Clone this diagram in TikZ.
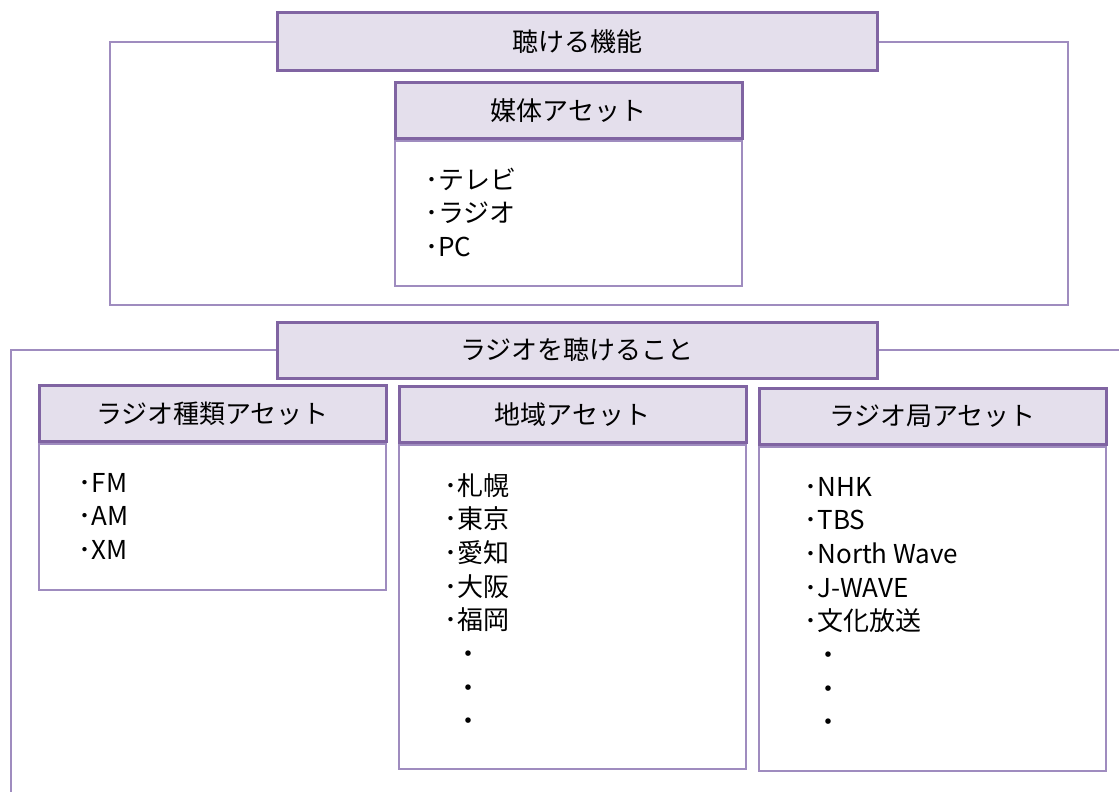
\documentclass[tikz,border=0pt]{standalone}
\usepackage{fontspec}
\newfontfamily\jpfont{Noto Sans CJK JP}
\usepackage{tikz}
\usetikzlibrary{positioning}
\definecolor{framepurple}{HTML}{8064A2}
\definecolor{linepurple}{HTML}{9F8CBF}
\definecolor{headfill}{HTML}{E4DFEC}

\begin{document}
\begin{tikzpicture}[x=1pt, y=-1pt,
  header/.style={draw=framepurple, line width=3pt, fill=headfill, minimum height=56pt, inner sep=0pt, font=\jpfont\fontsize{26}{30}\selectfont},
  wideheader/.style={header, minimum width=600pt},
  assethead/.style={header, minimum width=347pt},
  assetbody/.style={draw=linepurple, line width=1.5pt, minimum width=347pt, inner sep=0pt, anchor=north},
  itemlist/.style={align=left, anchor=base west, inner sep=0pt, font=\jpfont\fontsize{26}{33.7}\selectfont},
  frame/.style={draw=linepurple, line width=1.5pt}]

\useasboundingbox (0,0) rectangle (1119,792);
\clip (0,0) rectangle (1119,792);

% upper block
\node[wideheader, minimum height=58pt] (topHead) at (577,42) {聴ける機能};
\draw[frame] (topHead.west) -| (110,305) -- (1068,305) |- (topHead.east);

\node[assetbody, minimum height=145pt] (mediaBody) at (568.5,140) {};
\node[assethead, above=0pt of mediaBody] (mediaHead) {媒体アセット};
% base of a list node is its last line
\node[itemlist] (mediaList) at ([xshift=31pt, yshift=-116.4pt]mediaBody.north west) {･テレビ\\･ラジオ\\･PC};

% lower block
\node[wideheader] (radioHead) at (577,350) {ラジオを聴けること};
\draw[frame] (radioHead.west) -| (11,810);
\draw[frame] (radioHead.east) -- (1130,350);

\node[assetbody, minimum height=146pt] (kindBody) at (212.5,443) {};
\node[assethead, above=0pt of kindBody] (kindHead) {ラジオ種類アセット};
\node[itemlist] (kindList) at ([xshift=40.5pt, yshift=-116.4pt]kindBody.north west) {･FM\\･AM\\･XM};

\node[assetbody, minimum height=324pt] (areaBody) at (572.5,444) {};
\node[assethead, above=0pt of areaBody] (areaHead) {地域アセット};
\node[itemlist] (areaList) at ([xshift=46pt, yshift=-286.9pt]areaBody.north west)
  {･札幌\\･東京\\･愛知\\･大阪\\･福岡\\\hspace*{11pt}・\\\hspace*{11pt}・\\\hspace*{11pt}・};

\node[assetbody, minimum height=324pt] (stationBody) at (932.5,446) {};
\node[assethead, above=0pt of stationBody] (stationHead) {ラジオ局アセット};
\node[itemlist] (stationList) at ([xshift=46pt, yshift=-285.9pt]stationBody.north west)
  {･NHK\\･TBS\\･North Wave\\･J-WAVE\\･文化放送\\\hspace*{11pt}・\\\hspace*{11pt}・\\\hspace*{11pt}・};

\end{tikzpicture}
\end{document}
